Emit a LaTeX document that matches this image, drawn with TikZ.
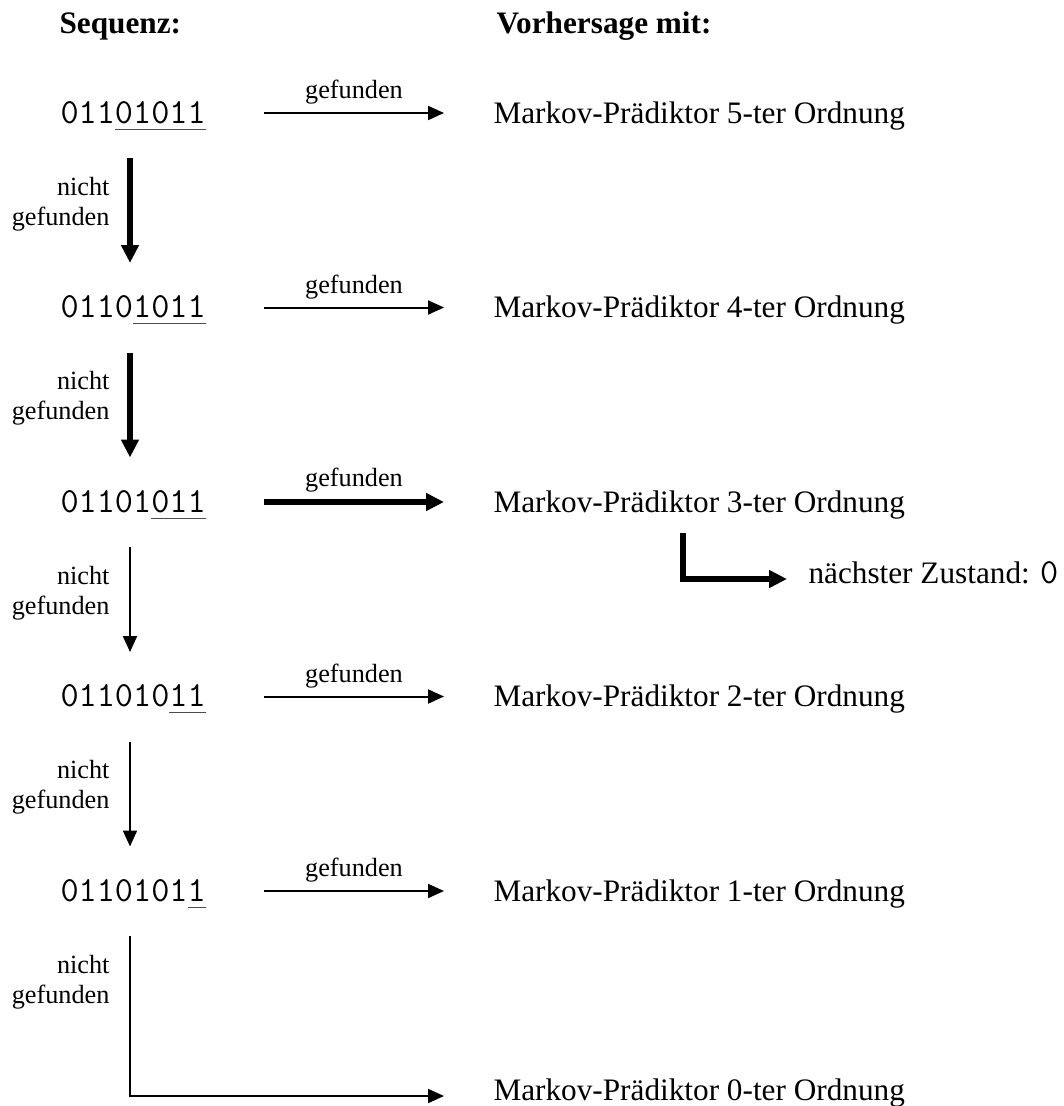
\documentclass[tikz,border=0pt]{standalone}
\usepackage{fontspec}
\setmainfont{Liberation Serif}
\usetikzlibrary{arrows.meta}

\newcommand{\seqfont}{\ttfamily\fontsize{14.1}{16}\selectfont}
\newcommand{\txtfont}{\fontsize{12.5}{15}\selectfont}
\newcommand{\lblfont}{\fontsize{10.5}{12}\selectfont}
% underlined part of a sequence
\newcommand{\ulseq}[1]{\setbox0\hbox{#1}\rlap{\color{black!70}\rule[-2.6pt]{\wd0}{0.4pt}}\box0}

\begin{document}
\begin{tikzpicture}[x=0.4pt, y=-0.4pt,
  head/.style={font=\txtfont\bfseries, inner sep=0pt, anchor=base west},
  seq/.style={font=\seqfont, inner sep=0pt, anchor=base west},
  pred/.style={font=\txtfont, inner sep=0pt, anchor=base west},
  nf/.style={font=\lblfont, inner sep=0pt, align=right, anchor=east},
  gf/.style={font=\lblfont, above, inner sep=3pt},
  found/.style={line width=0.8pt, -{Triangle[length=6.4pt,width=5.6pt]}},
  foundbold/.style={line width=2.1pt, -{Triangle[length=7.2pt,width=6.8pt]}}]
\useasboundingbox (0,0) rectangle (1064,1106);

% Headings
\node[head] (seqhead) at (59,33) {Sequenz:};
\node[head] (predhead) at (496,33) {Vorhersage mit:};

% Sequences
\node[seq] (s5) at (60,123) {011\ulseq{01011}};
\node[seq] (s4) at (60,317.5) {0110\ulseq{1011}};
\node[seq] (s3) at (60,512) {01101\ulseq{011}};
\node[seq] (s2) at (60,706.5) {011010\ulseq{11}};
\node[seq] (s1) at (60,901) {0110101\ulseq{1}};

% Predictors
\node[pred] (m5) at (493,123) {Markov-Prädiktor 5-ter Ordnung};
\node[pred] (m4) at (493,317.5) {Markov-Prädiktor 4-ter Ordnung};
\node[pred] (m3) at (493,512) {Markov-Prädiktor 3-ter Ordnung};
\node[pred] (m2) at (493,706.5) {Markov-Prädiktor 2-ter Ordnung};
\node[pred] (m1) at (493,901) {Markov-Prädiktor 1-ter Ordnung};
\node[pred] (m0) at (493,1100) {Markov-Prädiktor 0-ter Ordnung};
\node[pred] (nz) at (808,583) {nächster Zustand: {\seqfont 0}};

% "nicht gefunden" labels
\node[nf] (n5) at (110,204) {nicht\\gefunden};
\node[nf] (n4) at (110,398.5) {nicht\\gefunden};
\node[nf] (n3) at (110,593) {nicht\\gefunden};
\node[nf] (n2) at (110,787.5) {nicht\\gefunden};
\node[nf] (n1) at (110,982) {nicht\\gefunden};

% gefunden
\draw[found] ([shift={(204,-10)}]s5.base west) -- node[gf]{gefunden} ([shift={(-49,-10)}]m5.base west);
\draw[found] ([shift={(204,-10)}]s4.base west) -- node[gf]{gefunden} ([shift={(-49,-10)}]m4.base west);
\draw[foundbold] ([shift={(204,-10)}]s3.base west) -- node[gf]{gefunden} ([shift={(-49,-10)}]m3.base west);
\draw[found] ([shift={(204,-10)}]s2.base west) -- node[gf]{gefunden} ([shift={(-49,-10)}]m2.base west);
\draw[found] ([shift={(204,-10)}]s1.base west) -- node[gf]{gefunden} ([shift={(-49,-10)}]m1.base west);

% nicht gefunden
\draw[foundbold] ([shift={(70,35)}]s5.base west) -- ([shift={(70,-54.5)}]s4.base west);
\draw[foundbold] ([shift={(70,35)}]s4.base west) -- ([shift={(70,-54.5)}]s3.base west);
\draw[found] ([shift={(70,35)}]s3.base west) -- ([shift={(70,-54.5)}]s2.base west);
\draw[found] ([shift={(70,35)}]s2.base west) -- ([shift={(70,-54.5)}]s1.base west);
\draw[found] ([shift={(70,35)}]s1.base west) |- ([shift={(-49,-4)}]m0.base west);

% Result
\draw[foundbold] ([shift={(190,21)}]m3.base west) |- ([shift={(-21,-4)}]nz.base west);
\end{tikzpicture}
\end{document}
